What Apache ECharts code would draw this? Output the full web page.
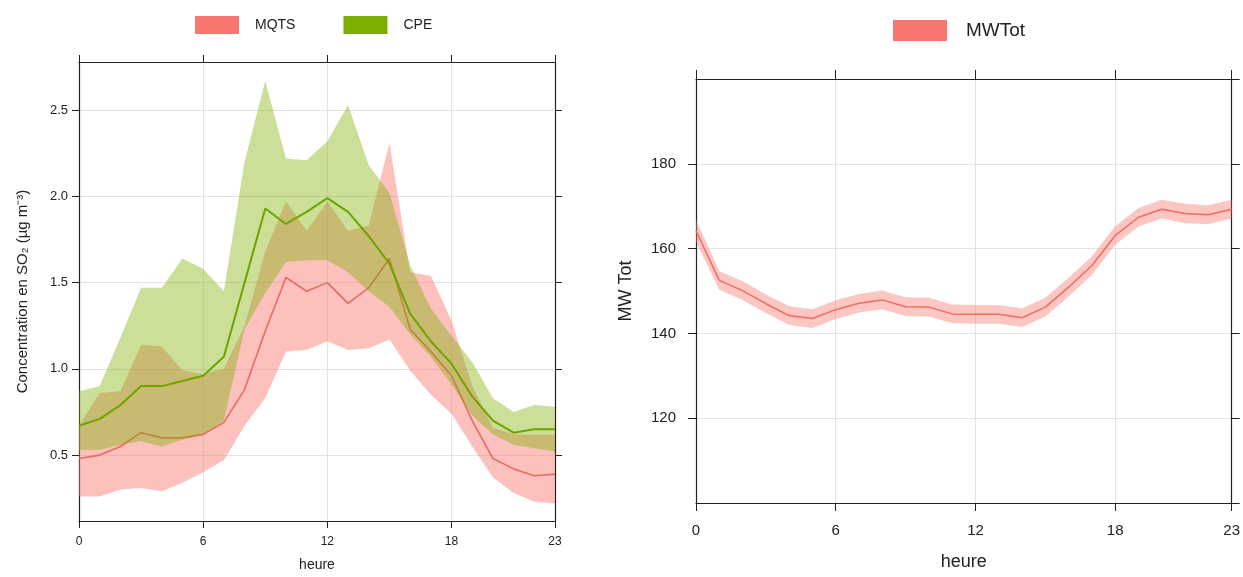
<!DOCTYPE html>
<html><head><meta charset="utf-8">
<script src="https://cdn.jsdelivr.net/npm/echarts@6/dist/echarts.min.js"></script>
<style>html,body{margin:0;padding:0;background:#fff}#c{width:1243px;height:577px}</style>
</head><body><div id="c"></div>
<script>
// ---- data ----
const hours = [0,1,2,3,4,5,6,7,8,9,10,11,12,13,14,15,16,17,18,19,20,21,22,23];
const xTicks = [0,6,12,18,23];
const leftYTicks = [0.5,1.0,1.5,2.0,2.5];

const mqtsMean = [0.48,0.50,0.55,0.63,0.60,0.60,0.62,0.69,0.88,1.22,1.53,1.45,1.50,1.38,1.47,1.64,1.23,1.10,0.96,0.70,0.48,0.42,0.38,0.39];
const mqtsLow  = [0.26,0.26,0.30,0.31,0.29,0.34,0.40,0.47,0.67,0.83,1.10,1.11,1.16,1.11,1.12,1.17,0.99,0.85,0.74,0.55,0.37,0.28,0.23,0.22];
const mqtsHigh = [0.67,0.86,0.87,1.14,1.13,0.99,0.97,1.00,1.25,1.68,1.97,1.80,1.97,1.80,1.83,2.31,1.56,1.54,1.28,0.90,0.66,0.62,0.62,0.62];

const cpeMean = [0.67,0.71,0.79,0.90,0.90,0.93,0.96,1.07,1.50,1.93,1.84,1.91,1.99,1.91,1.77,1.61,1.32,1.16,1.03,0.84,0.70,0.63,0.65,0.65];
const cpeLow  = [0.53,0.53,0.56,0.58,0.55,0.59,0.62,0.70,1.23,1.44,1.62,1.63,1.63,1.56,1.45,1.36,1.20,1.07,0.91,0.73,0.62,0.56,0.54,0.52];
const cpeHigh = [0.87,0.90,1.18,1.47,1.47,1.64,1.58,1.45,2.20,2.67,2.22,2.21,2.32,2.53,2.18,2.02,1.60,1.35,1.19,1.04,0.83,0.75,0.79,0.78];

const mwMean = [164.2,152.5,150.1,147.0,144.2,143.5,145.6,147.1,147.9,146.3,146.2,144.6,144.5,144.5,143.7,146.2,150.9,156.0,163.1,167.4,169.3,168.3,168.0,169.3];
const mwLow  = [161.6,150.3,147.9,144.8,142.0,141.3,143.4,144.9,145.7,144.1,144.0,142.4,142.3,142.3,141.5,144.0,148.7,153.8,160.9,165.2,167.1,166.0,165.8,167.1];
const mwHigh = [166.8,154.7,152.3,149.2,146.4,145.7,147.8,149.3,150.1,148.5,148.4,146.8,146.7,146.7,145.9,148.4,153.1,158.2,165.3,169.6,171.5,170.6,170.2,171.5];

// ---- helpers ----
const pairs = arr => hours.map((h, i) => [h, arr[i]]);
const FONT = 'Liberation Sans, Arial, sans-serif';
const AX = '#222';
const GRIDC = '#e3e3e3';

function bandSeries(name, lo, hi, color, xi, yi, z) {
  return {
    type:'custom', name, xAxisIndex:xi, yAxisIndex:yi, silent:true, z,
    data: hours.map((h, i) => [h, lo[i], hi[i]]),
    encode:{x:0, y:[1,2]},
    renderItem: (params, api) => {
      if (params.dataIndex !== 0) return null;
      const top = hours.map((h, i) => api.coord([h, hi[i]]));
      const bot = hours.map((h, i) => api.coord([h, lo[i]])).reverse();
      return {type:'polygon', shape:{points: top.concat(bot)}, style:{fill: color, stroke:null}};
    }
  };
}
function meanSeries(name, arr, color, w, xi, yi, z) {
  return {type:'line', name, data: pairs(arr), xAxisIndex:xi, yAxisIndex:yi, z,
    symbol:'none', lineStyle:{color, width:w}, itemStyle:{color}, silent:true};
}
function xAxisCfg(grid, pos, extra) {
  return Object.assign({gridIndex:grid, type:'value', position:pos, min:0, max:23,
    axisLine:{onZero:false, lineStyle:{color:AX, width:1.2}},
    axisTick:{customValues:xTicks, length:7, lineStyle:{color:AX}},
    axisLabel:{show:false}, splitLine:{show:false}}, extra);
}

const chart = echarts.init(document.getElementById('c'), null, {renderer:'canvas'});
chart.setOption({
  animation:false,
  backgroundColor:'#fff',
  textStyle:{fontFamily:FONT},
  legend:[
    {left:195, top:16, padding:0, itemWidth:44, itemHeight:18, itemGap:48, selectedMode:false,
     textStyle:{fontSize:14, color:'#222', fontFamily:FONT, padding:[0,0,0,11]},
     data:[{name:'MQTS', icon:'rect', itemStyle:{color:'#F8766D'}},
           {name:'CPE', icon:'rect', itemStyle:{color:'#7CAE00'}}]},
    {left:893, top:20, padding:0, itemWidth:54, itemHeight:21, selectedMode:false,
     textStyle:{fontSize:19, color:'#222', fontFamily:FONT, padding:[0,0,0,14]},
     data:[{name:'MWTot', icon:'rect', itemStyle:{color:'#F8766D'}}]}
  ],
  grid:[
    {left:79, top:62, width:476, height:462},
    {left:696, top:79, width:536, height:424}
  ],
  xAxis:[
    xAxisCfg(0, 'bottom', {
      axisLabel:{customValues:xTicks, fontSize:12, color:'#222', margin:15},
      splitLine:{show:true, lineStyle:{color:GRIDC, width:1}},
      name:'heure', nameLocation:'middle', nameGap:37, nameTextStyle:{fontSize:14, color:'#222'}}),
    xAxisCfg(0, 'top', {}),
    xAxisCfg(1, 'bottom', {
      axisTick:{customValues:xTicks, length:8, lineStyle:{color:AX}},
      axisLabel:{customValues:xTicks, fontSize:15, color:'#222', margin:20},
      splitLine:{show:true, lineStyle:{color:GRIDC, width:1}},
      name:'heure', nameLocation:'middle', nameGap:50, nameTextStyle:{fontSize:18, color:'#222'}}),
    xAxisCfg(1, 'top', {axisTick:{customValues:xTicks, length:9, lineStyle:{color:AX}}})
  ],
  yAxis:[
    {gridIndex:0, type:'value', position:'left', min:0.118, max:2.779,
     axisLine:{show:true, onZero:false, lineStyle:{color:AX, width:1.2}},
     axisTick:{show:true, customValues:leftYTicks, length:7, lineStyle:{color:AX}},
     axisLabel:{customValues:leftYTicks, fontSize:13, color:'#222', margin:11, formatter:v => v.toFixed(1)},
     splitLine:{show:true, lineStyle:{color:GRIDC, width:1}},
     name:'Concentration en SO\u2082 (\u00b5g m\u207b\u00b3)', nameLocation:'middle', nameRotate:90, nameGap:49,
     nameTextStyle:{fontSize:15, color:'#222'}},
    {gridIndex:0, type:'value', position:'right', min:0.118, max:2.779,
     axisLine:{show:true, onZero:false, lineStyle:{color:AX, width:1.2}},
     axisTick:{show:true, customValues:leftYTicks, length:7, lineStyle:{color:AX}},
     axisLabel:{show:false}, splitLine:{show:false}},
    {gridIndex:1, type:'value', position:'left', min:100, max:200, interval:20,
     axisLine:{show:true, onZero:false, lineStyle:{color:AX, width:1.2}},
     axisTick:{show:true, length:8, lineStyle:{color:AX}},
     axisLabel:{fontSize:15, color:'#222', margin:20, showMinLabel:false, showMaxLabel:false},
     splitLine:{show:true, lineStyle:{color:GRIDC, width:1}},
     name:'MW Tot', nameLocation:'middle', nameRotate:90, nameGap:61,
     nameTextStyle:{fontSize:18, color:'#222'}},
    {gridIndex:1, type:'value', position:'right', min:100, max:200, interval:20,
     axisLine:{show:true, onZero:false, lineStyle:{color:AX, width:1.2}},
     axisTick:{show:true, length:8, lineStyle:{color:AX}},
     axisLabel:{show:false}, splitLine:{show:false}}
  ],
  series:[
    bandSeries('MQTS band', mqtsLow, mqtsHigh, 'rgba(248,118,109,0.45)', 0, 0, 2),
    meanSeries('MQTS', mqtsMean, '#EA6A62', 1.6, 0, 0, 3),
    bandSeries('CPE band', cpeLow, cpeHigh, 'rgba(124,174,0,0.4)', 0, 0, 4),
    meanSeries('CPE', cpeMean, '#6EA400', 2, 0, 0, 5),
    bandSeries('MWTot band', mwLow, mwHigh, 'rgba(248,118,109,0.42)', 2, 2, 2),
    meanSeries('MWTot', mwMean, '#F26A62', 1.5, 2, 2, 3)
  ]
});
</script>
</body></html>
